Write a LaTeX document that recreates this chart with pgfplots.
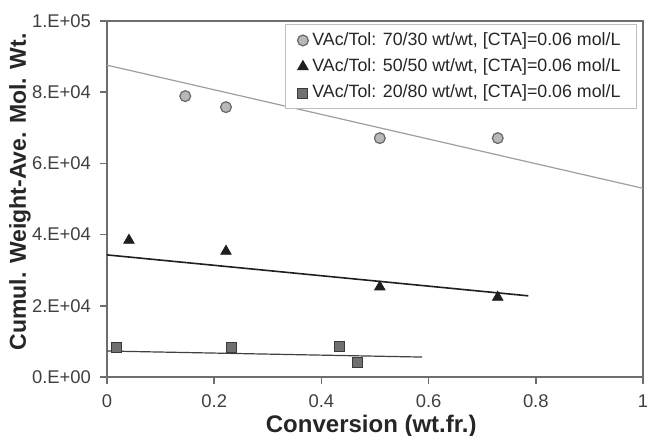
\documentclass[border=0pt]{standalone}
\usepackage{pgfplots}
\pgfplotsset{compat=1.18}
\usepackage{fontspec}
\setmainfont{Liberation Sans}
\definecolor{circfill}{HTML}{B8B8B8}
\definecolor{circedge}{HTML}{666666}
\definecolor{sqfill}{HTML}{707070}
\definecolor{sqedge}{HTML}{3A3A3A}
\definecolor{axgray}{HTML}{6E6E6E}
\begin{document}
\begin{tikzpicture}
\begin{axis}[
  scale only axis,
  width=268pt, height=178pt,
  xmin=0, xmax=1, ymin=0, ymax=100000,
  xtick={0,0.2,0.4,0.6,0.8,1},
  xticklabels={0,0.2,0.4,0.6,0.8,1},
  ytick={0,20000,40000,60000,80000,100000},
  yticklabels={0.E+00,2.E+04,4.E+04,6.E+04,8.E+04,1.E+05},
  scaled y ticks=false,
  axis line style={axgray, line width=0.8pt},
  tick style={axgray, line width=0.8pt},
  tick align=outside,
  major tick length=3.5pt,
  xtick pos=bottom, ytick pos=left,
  ticklabel style={font=\fontsize{9.2}{10}\selectfont, text=black!75},
  xticklabel style={yshift=-2pt},
  yticklabel style={xshift=-1pt},
  xlabel={Conversion (wt.fr.)},
  ylabel={Cumul. Weight-Ave. Mol. Wt.},
  label style={font=\bfseries\fontsize{11.5}{12}\selectfont, text=black!85},
  xlabel style={at={(axis description cs:0.493,0)}, anchor=center, yshift=-24.5pt, font=\bfseries\fontsize{12}{13}\selectfont},
  ylabel style={at={(axis description cs:-0.1625,0.52)}, anchor=center},
  legend style={at={(axis description cs:1,1)}, anchor=north east,
    xshift=-3pt, yshift=-1.5pt, draw=black!25, line width=0.5pt,
    font=\fontsize{8.9}{10}\selectfont, text=black!85,
    row sep=1.2pt, inner xsep=6pt, inner ysep=2pt,
    legend cell align=left},
]
\addplot[only marks, mark=*, mark size=2.7pt, mark options={fill=circfill, draw=circedge, line width=0.6pt}]
  coordinates {(0.146,78900) (0.222,75800) (0.509,67100) (0.729,67100)};
\addlegendentry{VAc/Tol: 70/30 wt/wt, [CTA]=0.06 mol/L}
\addplot[only marks, mark=triangle*, mark size=3pt, mark options={fill=black!88, draw=black!88}]
  coordinates {(0.041,38400) (0.222,35300) (0.509,25300) (0.729,22400)};
\addlegendentry{VAc/Tol: 50/50 wt/wt, [CTA]=0.06 mol/L}
\addplot[only marks, mark=square*, mark size=2.5pt, mark options={fill=sqfill, draw=sqedge, line width=0.5pt}]
  coordinates {(0.017,8400) (0.233,8400) (0.433,8700) (0.467,4200)};
\addlegendentry{VAc/Tol: 20/80 wt/wt, [CTA]=0.06 mol/L}
\addplot[forget plot, no marks, color=black!38, line width=0.6pt] coordinates {(0,87600) (1,53000)};
\addplot[forget plot, no marks, color=black!88, line width=0.8pt] coordinates {(0,34300) (0.786,22800)};
\addplot[forget plot, no marks, color=black!75, line width=0.6pt] coordinates {(0,7300) (0.588,5600)};
\end{axis}
\pgfresetboundingbox
\path ([xshift=-53.5pt,yshift=-29pt]current axis.south west) rectangle ([xshift=2pt,yshift=10.5pt]current axis.north east);
\end{tikzpicture}
\end{document}
